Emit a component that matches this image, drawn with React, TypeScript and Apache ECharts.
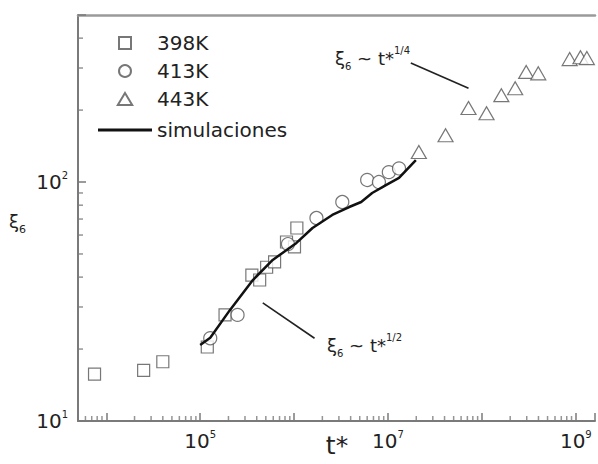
import React, { useEffect, useRef } from "react";
import * as echarts from "echarts";

// ---- data ----
const t398 = [7.5e3, 2.5e4, 4.0e4, 1.19e5, 1.84e5, 3.55e5, 4.3e5, 5.1e5, 6.2e5, 8.3e5, 1.01e6, 1.07e6];
const xi398 = [15.7, 16.3, 17.7, 20.4, 27.8, 40.8, 38.9, 44.0, 46.3, 56.1, 53.5, 64.2];

const t413 = [1.28e5, 2.5e5, 8.6e5, 1.73e6, 3.26e6, 6.0e6, 8.0e6, 1.02e7, 1.31e7];
const xi413 = [22.2, 27.8, 55, 70.7, 82.5, 102, 100, 110, 114];

const t443 = [2.13e7, 4.1e7, 7.2e7, 1.12e8, 1.61e8, 2.26e8, 2.96e8, 3.98e8, 8.6e8, 1.12e9, 1.31e9];
const xi443 = [133.5, 157, 204, 194, 231, 247, 289, 285, 327, 333, 330];

const tSim = [1.0e5, 1.28e5, 2.07e5, 3.64e5, 5.92e5, 1.06e6, 1.57e6, 2.55e6, 3.86e6, 5.18e6, 6.78e6, 9.5e6, 1.31e7, 1.98e7];
const xiSim = [20.8, 22.3, 29.1, 38.9, 47.2, 55.6, 64.2, 72.8, 78.6, 82.5, 90, 97.1, 104, 123.6];

const seriesNames = ["398K", "413K", "443K", "simulaciones"];

// annotation guide lines (data coordinates)
const guideQuarter = [[1.75e7, 315], [7.2e7, 247]];
const guideHalf = [[4.64e5, 31.2], [1.65e6, 22.2]];

// axis ranges
const xMin = 5000;
const xMax = 1.6e9;
const yMin = 10;
const yMax = 500;
const minorMantissas = [2, 3, 4, 5, 6, 7, 8, 9];
const xDecades = [3, 4, 5, 6, 7, 8, 9];
const yDecades = [1, 2];

const zip = (a: number[], b: number[]) => a.map((v, i) => [v, b[i]]);

const FONT = "DejaVu Sans";
const AXIS = "#7a7a7a";
const MARK = "#555";

const SQUARE_ICON = "path://M0,0L10,0L10,10L0,10Z";
const TRIANGLE_ICON = "path://M6,0L12,10L0,10Z";
const LINE_ICON = "path://M0,0L54,0L54,3L0,3Z";

export default function App() {
  const ref = useRef<HTMLDivElement>(null);
  useEffect(() => {
    if (!ref.current) return;
    const chart = echarts.init(ref.current, null, { renderer: "svg" });

    const xMinor: number[][] = [];
    xDecades.forEach((d) =>
      minorMantissas.forEach((m) => {
        const v = m * Math.pow(10, d);
        if (v > xMin && v < xMax) xMinor.push([v, yMin]);
      })
    );
    const yMinor: number[][] = [];
    yDecades.forEach((d) =>
      minorMantissas.forEach((m) => {
        const v = m * Math.pow(10, d);
        if (v > yMin && v < yMax) yMinor.push([xMin, v]);
      })
    );

    const expLabel = (v: number, oddOnly: boolean) => {
      const e = Math.log10(v);
      const r = Math.round(e);
      if (Math.abs(e - r) > 1e-6) return "";
      if (oddOnly && Math.abs(r % 2) !== 1) return "";
      return "10{sup|" + r + "}";
    };

    const labelStyle = {
      fontFamily: FONT,
      fontSize: 20,
      color: "#222",
      lineHeight: 24,
      rich: {
        sup: { fontFamily: FONT, fontSize: 10, verticalAlign: "top", color: "#222", lineHeight: 24 },
      },
    };

    const hollow = { color: "#fff", borderColor: MARK, borderWidth: 1.2 };

    const annRich = {
      sub: { fontFamily: FONT, fontSize: 10, verticalAlign: "bottom", lineHeight: 26, fill: "#222" },
      sup: { fontFamily: FONT, fontSize: 10, verticalAlign: "top", lineHeight: 26, fill: "#222" },
    };

    chart.setOption({
      animation: false,
      backgroundColor: "#fff",
      grid: { left: 78, top: 15, bottom: 43, right: 0, show: false },
      legend: {
        data: [
          { name: seriesNames[0], icon: SQUARE_ICON },
          { name: seriesNames[1], icon: "circle" },
          { name: seriesNames[2], icon: TRIANGLE_ICON },
          { name: seriesNames[3], icon: LINE_ICON, textStyle: { lineHeight: 30 } },
        ],
        orient: "vertical",
        left: 98,
        top: 31,
        padding: 0,
        itemWidth: 54,
        itemHeight: 12,
        itemGap: 4,
        symbolKeepAspect: true,
        textStyle: { fontFamily: FONT, fontSize: 20, color: "#222", lineHeight: 24 },
      },
      xAxis: [
        {
          type: "log",
          logBase: 10,
          min: xMin,
          max: xMax,
          axisLine: { show: true, lineStyle: { color: AXIS, width: 2 } },
          axisTick: { show: true, inside: true, length: 8, lineStyle: { color: AXIS, width: 1.5 } },
          splitLine: { show: false },
          minorTick: { show: false },
          axisLabel: { ...labelStyle, margin: 8, formatter: (v: number) => expLabel(v, true) },
        },
        {
          type: "log",
          logBase: 10,
          position: "top",
          min: xMin,
          max: xMax,
          axisLine: { show: true, lineStyle: { color: "#9a9a9a", width: 2.5 } },
          axisTick: { show: false },
          axisLabel: { show: false },
          splitLine: { show: false },
        },
      ],
      yAxis: {
        type: "log",
        logBase: 10,
        min: yMin,
        max: yMax,
        axisLine: { show: true, lineStyle: { color: AXIS, width: 2 } },
        axisTick: { show: true, inside: true, length: 8, lineStyle: { color: AXIS, width: 1.5 } },
        splitLine: { show: false },
        axisLabel: { ...labelStyle, margin: 10, formatter: (v: number) => expLabel(v, false) },
      },
      series: [
        {
          name: "398K",
          type: "scatter",
          symbol: "rect",
          symbolSize: 12,
          itemStyle: hollow,
          data: zip(t398, xi398),
        },
        {
          name: "413K",
          type: "scatter",
          symbol: "circle",
          symbolSize: 13,
          itemStyle: hollow,
          data: zip(t413, xi413),
        },
        {
          name: "443K",
          type: "scatter",
          symbol: "triangle",
          symbolSize: [15, 13],
          itemStyle: hollow,
          data: zip(t443, xi443),
        },
        {
          name: "simulaciones",
          type: "line",
          symbol: "none",
          showSymbol: false,
          lineStyle: { color: "#111", width: 2.5 },
          itemStyle: { color: "#111" },
          data: zip(tSim, xiSim),
          z: 5,
          markLine: {
            silent: true,
            symbol: ["none", "none"],
            label: { show: false },
            lineStyle: { color: "#222", width: 1.6, type: "solid" },
            data: [
              [{ coord: guideQuarter[0] }, { coord: guideQuarter[1] }],
              [{ coord: guideHalf[0] }, { coord: guideHalf[1] }],
            ],
          },
        },
        {
          name: "xMinorTicks",
          type: "scatter",
          silent: true,
          clip: false,
          symbol: "rect",
          symbolSize: [1.5, 5],
          symbolOffset: [0, -2.5],
          itemStyle: { color: AXIS },
          data: xMinor,
          z: 1,
        },
        {
          name: "yMinorTicks",
          type: "scatter",
          silent: true,
          clip: false,
          symbol: "rect",
          symbolSize: [5, 1.5],
          symbolOffset: [2.5, 0],
          itemStyle: { color: AXIS },
          data: yMinor,
          z: 1,
        },
      ],
      graphic: [
        {
          type: "text",
          x: 335,
          y: 45,
          style: {
            text: "ξ{sub|6} ~ t*{sup|1/4}",
            fontFamily: FONT,
            fontSize: 18,
            lineHeight: 26,
            fill: "#222",
            rich: annRich,
          },
        },
        {
          type: "text",
          x: 327,
          y: 332,
          style: {
            text: "ξ{sub|6} ~ t*{sup|1/2}",
            fontFamily: FONT,
            fontSize: 18,
            lineHeight: 26,
            fill: "#222",
            rich: annRich,
          },
        },
        {
          type: "text",
          x: 9,
          y: 207,
          style: {
            text: "ξ{sub|6}",
            fontFamily: FONT,
            fontSize: 18,
            lineHeight: 28,
            fill: "#222",
            rich: {
              sub: { fontFamily: FONT, fontSize: 11, verticalAlign: "bottom", lineHeight: 28, fill: "#222" },
            },
          },
        },
        {
          type: "text",
          x: 337,
          y: 445,
          style: {
            text: "t*",
            fontFamily: FONT,
            fontSize: 25,
            fill: "#222",
            align: "center",
            verticalAlign: "middle",
          },
        },
      ],
    });
    return () => chart.dispose();
  }, []);
  return (
    <div
      ref={ref}
      style={{ position: "fixed", left: 0, top: 0, width: 598, height: 464, background: "#fff" }}
    />
  );
}
